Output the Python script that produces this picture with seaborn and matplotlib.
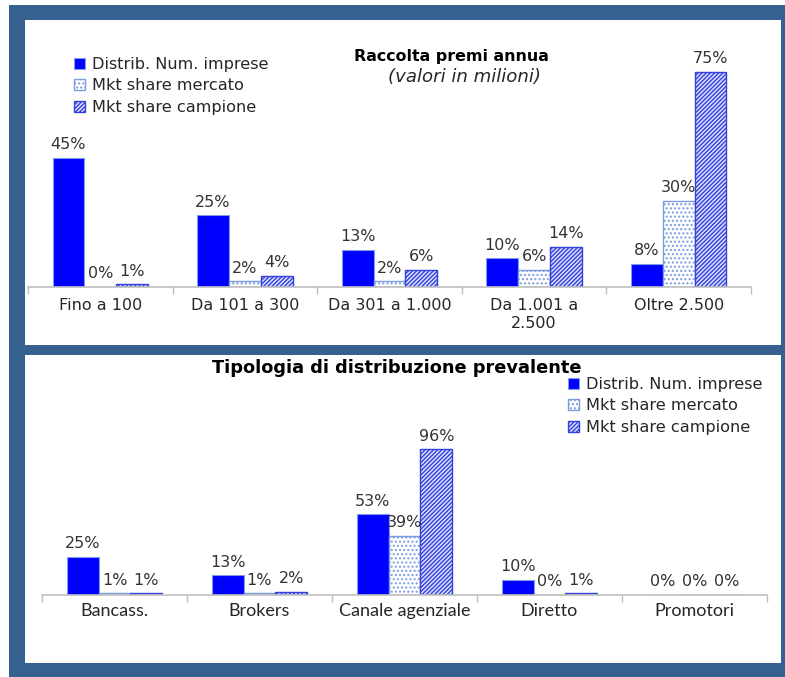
import matplotlib
matplotlib.use("Agg")
import matplotlib.pyplot as plt
import seaborn as sns
import pandas as pd
from matplotlib.patches import Rectangle

# Series shown in both panels
series_names = ["Distrib. Num. imprese", "Mkt share mercato", "Mkt share campione"]

# Panel 1: annual premium income classes (values in millions)
size_cats = ["Fino a 100", "Da 101 a 300", "Da 301 a 1.000", "Da 1.001 a\n2.500", "Oltre 2.500"]
size_distrib = [45, 25, 13, 10, 8]
size_mercato = [0, 2, 2, 6, 30]
size_campione = [1, 4, 6, 14, 75]

# Panel 2: prevailing distribution channel
channel_cats = ["Bancass.", "Brokers", "Canale agenziale", "Diretto", "Promotori"]
channel_distrib = [25, 13, 53, 10, 0]
channel_mercato = [1, 1, 39, 0, 0]
channel_campione = [1, 2, 96, 1, 0]

W, H = 785, 677
sns.set_theme(style="white")
plt.rcParams["font.family"] = ["DejaVu Sans"]
plt.rcParams["hatch.linewidth"] = 1.0

fig = plt.figure(figsize=(W / 100, H / 100), dpi=100)
fig.patch.set_facecolor("white")


def fbox(x0, y0, x1, y1):
    """Pixel box (top-left origin) -> figure fraction [left, bottom, width, height]."""
    return [x0 / W, 1 - y1 / H, (x1 - x0) / W, (y1 - y0) / H]


def frame_rect(x0, y0, x1, y1, color, z):
    l, b, w, h = fbox(x0, y0, x1, y1)
    fig.patches.append(Rectangle((l, b), w, h, transform=fig.transFigure,
                                 facecolor=color, edgecolor="none", zorder=z))


# dark blue frame with two white panels
frame_rect(9, 5, 790, 680, "#36608F", -10)
frame_rect(25, 20, 781, 345, "white", -9)
frame_rect(25, 355, 781, 663, "white", -9)

bar_styles = [
    dict(facecolor="#0000FF", edgecolor="#7F9BE8", linewidth=0.8, hatch=None),
    dict(facecolor="white", edgecolor="#7C9BE0", linewidth=1.0, hatch="...."),
    dict(facecolor="#DCE0FF", edgecolor="#3440DC", linewidth=1.0, hatch="////////"),
]

LABEL_SIZE = 11.5


def draw_panel(ax, cats, d, m, c, ymax, tick_font, tick_size, tick_pad):
    df = pd.DataFrame({
        "categoria": cats * 3,
        "serie": [s for s in series_names for _ in cats],
        "quota": d + m + c,
    })
    sns.barplot(data=df, x="categoria", y="quota", hue="serie",
                hue_order=series_names, order=cats, width=0.66, gap=0,
                errorbar=None, saturation=1, legend=False, ax=ax)
    for cont, st in zip(ax.containers, bar_styles):
        for p in cont.patches:
            p.set_facecolor(st["facecolor"])
            p.set_edgecolor(st["edgecolor"])
            p.set_linewidth(st["linewidth"])
            p.set_hatch(st["hatch"])
        ax.bar_label(cont, labels=[f"{v:.0f}%" for v in cont.datavalues],
                     padding=4, fontsize=LABEL_SIZE, color="#333333")
    ax.set_xlim(-0.5, len(cats) - 0.5)
    ax.set_ylim(0, ymax)
    ax.set_facecolor("none")
    ax.set_xlabel("")
    ax.set_ylabel("")
    ax.set_yticks([])
    for s in ("left", "top", "right"):
        ax.spines[s].set_visible(False)
    ax.spines["bottom"].set_color("#BFBFBF")
    ax.spines["bottom"].set_linewidth(1.2)
    ax.set_xticks([i - 0.5 for i in range(len(cats) + 1)], minor=True)
    ax.tick_params(axis="x", which="minor", bottom=True, length=5,
                   width=1, color="#BFBFBF", direction="out")
    ax.tick_params(axis="x", which="major", length=0, pad=tick_pad,
                   labelsize=tick_size, labelcolor="#262626")
    for lab in ax.get_xticklabels():
        lab.set_fontfamily(tick_font)
    return ax


def add_legend(ax, x, y):
    ax.legend(handles=ax.containers, labels=series_names, loc="upper left",
              bbox_to_anchor=(x / W, 1 - y / H), bbox_transform=fig.transFigure,
              frameon=False, borderpad=0, borderaxespad=0, handlelength=0.7,
              handleheight=0.7, handletextpad=0.4, labelspacing=0.4,
              prop={"size": 11.6}, labelcolor="#262626")


# Panel 1
ax1 = fig.add_axes(fbox(28, 40, 751, 287))
draw_panel(ax1, size_cats, size_distrib, size_mercato, size_campione,
           (287 - 40) / 2.87, "DejaVu Sans", 11.5, 8)
fig.text(451 / W, 1 - 57 / H, "Raccolta premi annua", ha="center", va="center",
         fontsize=11.4, fontweight="bold", color="black")
fig.text(465 / W, 1 - 77 / H, "(valori in milioni)", ha="center", va="center",
         fontsize=13.1, fontstyle="italic", color="#262626")
add_legend(ax1, 74, 57)

# Panel 2
ax2 = fig.add_axes(fbox(42, 440, 767, 595))
draw_panel(ax2, channel_cats, channel_distrib, channel_mercato, channel_campione,
           (595 - 440) / 1.52, "Lato", 13, 6)
fig.text(397 / W, 1 - 368 / H, "Tipologia di distribuzione prevalente",
         ha="center", va="center", fontsize=12.8, fontweight="bold", color="black")
add_legend(ax2, 568, 377)

fig.savefig("out.png", dpi=100)
